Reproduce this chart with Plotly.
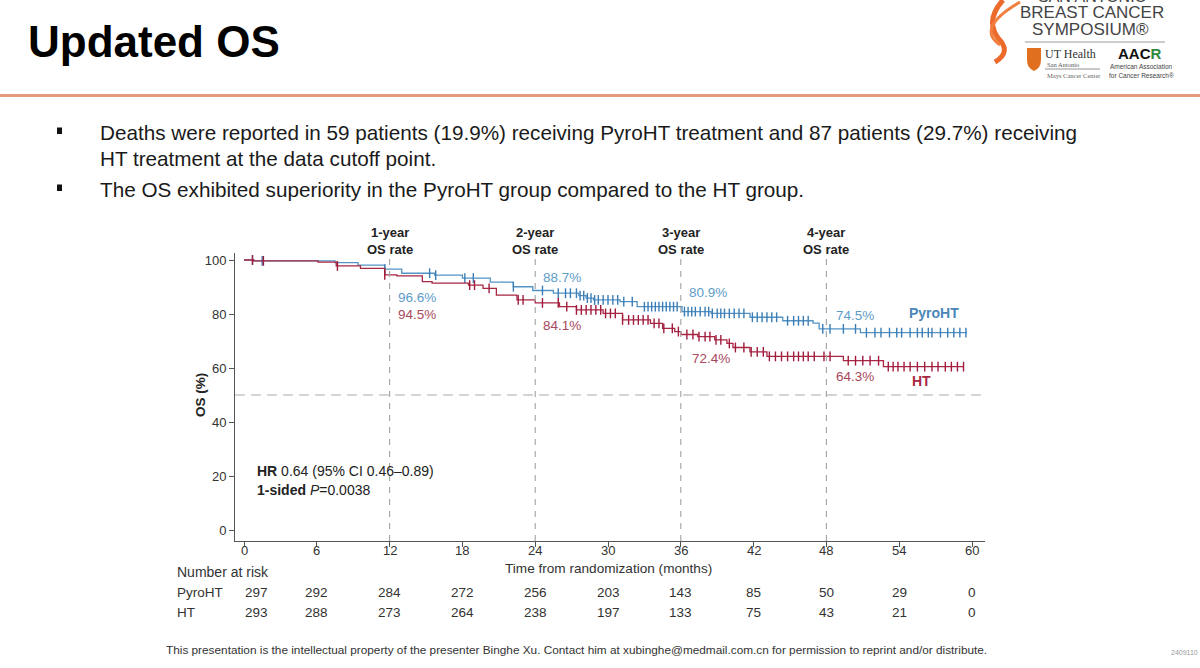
import numpy as np
import plotly.graph_objects as go

W, H = 1200, 668

# ---------------- data ----------------
months_ticks = [0, 6, 12, 18, 24, 30, 36, 42, 48, 54, 60]
os_ticks = [0, 20, 40, 60, 80, 100]

pyro_time = [0, 0.8, 7.5, 9.4, 11.6, 13.0, 15.7, 18.0, 20.3, 22.2, 23.8, 25.5, 27.6, 28.2,
             28.8, 31.0, 32.4, 36.1, 38.5, 41.7, 44.4, 46.9, 47.4, 50.8, 59.6]
pyro_surv = [100, 99.7, 99.0, 98.1, 96.6, 95.1, 94.4, 93.3, 91.8, 90.1, 88.7, 87.7, 86.8, 85.9,
             85.2, 84.6, 82.7, 80.9, 80.2, 78.8, 77.5, 76.6, 74.5, 73.1, 73.1]

ht_time = [0, 0.8, 6.1, 7.6, 9.6, 11.6, 12.6, 14.7, 15.5, 18.5, 19.7, 20.8, 22.5, 24.0, 26.0,
           27.4, 29.6, 31.2, 33.5, 34.5, 35.5, 36.0, 37.4, 38.8, 39.8, 40.3, 41.7, 43.1, 49.4,
           52.7, 59.3]
ht_surv = [100, 99.7, 99.2, 97.8, 96.9, 94.5, 94.1, 92.0, 91.4, 90.7, 89.5, 87.0, 85.2, 84.1, 82.7,
           81.5, 80.2, 77.8, 76.5, 74.7, 73.5, 72.4, 71.6, 70.4, 69.1, 67.6, 66.0, 64.3, 62.7,
           60.5, 60.5]

pyro_censor = [0.7, 1.5, 11.6, 15.3, 15.8, 18.2, 18.9, 22.2, 24.6, 25.9, 26.5, 26.9, 27.4, 27.7,
               28.0, 28.3, 28.6, 28.9, 29.2, 29.6, 30.0, 30.4, 30.8, 31.3, 32.0, 33.0, 33.3, 33.6,
               33.9, 34.2, 34.5, 34.8, 35.1, 35.4, 35.7, 36.3, 36.6, 36.9, 37.2, 37.6, 38.0, 38.3,
               38.6, 39.0, 39.3, 39.6, 40.0, 40.4, 40.8, 41.2, 41.9, 42.3, 42.7, 43.1, 43.5, 43.9,
               44.8, 45.3, 45.7, 46.1, 46.5, 47.7, 48.3, 49.4, 50.4, 51.3, 52.0, 52.5, 53.2, 53.8,
               54.2, 54.9, 55.5, 55.9, 56.4, 56.7, 57.4, 58.0, 58.5, 59.0, 59.5]
ht_censor = [0.7, 1.6, 7.7, 11.6, 18.6, 19.0, 20.2, 22.6, 23.0, 24.6, 25.9, 26.6, 27.4, 27.8,
             28.2, 28.6, 29.0, 29.4, 29.8, 30.2, 30.6, 31.2, 31.7, 32.1, 32.5, 32.9, 33.3, 33.8,
             34.2, 34.6, 35.3, 35.8, 36.5, 37.0, 37.5, 38.0, 38.4, 38.9, 39.3, 40.0, 40.5, 41.2,
             41.8, 42.3, 42.8, 43.3, 43.8, 44.3, 44.8, 45.3, 45.7, 46.1, 46.5, 47.0, 47.8, 48.3,
             49.8, 50.4, 51.0, 51.6, 52.3, 53.1, 53.5, 53.9, 54.4, 54.9, 55.5, 56.1, 56.7, 57.2,
             57.8, 58.3, 58.8, 59.3]

risk_groups = ["PyroHT", "HT"]
risk_pyro = [297, 292, 284, 272, 256, 203, 143, 85, 50, 29, 0]
risk_ht = [293, 288, 273, 264, 238, 197, 133, 75, 43, 21, 0]

landmarks = [12, 24, 36, 48]
landmark_labels = ["1-year", "2-year", "3-year", "4-year"]
pyro_rates = ["96.6%", "88.7%", "80.9%", "74.5%"]
ht_rates = ["94.5%", "84.1%", "72.4%", "64.3%"]

bullets = [
    "Deaths were reported in 59 patients (19.9%) receiving PyroHT treatment and 87 patients (29.7%) receiving",
    "HT treatment at the data cutoff point.",
    "The OS exhibited superiority in the PyroHT group compared to the HT group.",
]

# ---------------- style ----------------
BLUE_LINE = "#5393C3"
BLUE_MARK = "#3B7DB6"
BLUE_TXT = "#5E9CC8"
RED_LINE = "#A82743"
RED_MARK = "#A11B3C"
RED_TXT = "#A8475C"
SANS = "Liberation Sans, Arial, sans-serif"


def px(x):
    return x / W


def py(y):
    return 1 - y / H


def step_at(times, surv, t):
    idx = np.searchsorted(np.array(times), np.array(t), side="right") - 1
    return np.array(surv)[idx]


fig = go.Figure()

for times, surv, cens, lc, mc, name in [
    (pyro_time, pyro_surv, pyro_censor, BLUE_LINE, BLUE_MARK, "PyroHT"),
    (ht_time, ht_surv, ht_censor, RED_LINE, RED_MARK, "HT"),
]:
    fig.add_trace(go.Scatter(x=times, y=surv, mode="lines", line=dict(color=lc, width=1.3, shape="hv"),
                             name=name, showlegend=False, hoverinfo="skip"))
    fig.add_trace(go.Scatter(x=cens, y=step_at(times, surv, cens), mode="markers",
                             marker=dict(symbol="line-ns", size=7, line=dict(color=mc, width=1.4)),
                             showlegend=False, hoverinfo="skip"))

# axis geometry (pixels)
X0, X1 = 235, 985
Y0, Y1 = 253, 541
m_per_px = 60 / (972 - 244)
p_per_px = 100 / (530 - 260)
xr = [0 - (244 - X0) * m_per_px, 60 + (X1 - 972) * m_per_px]
yr = [0 - (Y1 - 530) * p_per_px, 100 + (260 - Y0) * p_per_px]

fig.update_layout(
    width=W, height=H, margin=dict(l=0, r=0, t=0, b=0),
    paper_bgcolor="white", plot_bgcolor="white",
    xaxis=dict(domain=[px(X0), px(X1)], range=xr, tickvals=months_ticks, showgrid=False, zeroline=False,
               showline=True, linecolor="#555", linewidth=1, ticks="outside", ticklen=5, tickcolor="#555",
               showticklabels=False),
    yaxis=dict(domain=[py(Y1), py(Y0)], range=yr, tickvals=os_ticks, showgrid=False, zeroline=False,
               showline=True, linecolor="#555", linewidth=1, ticks="outside", ticklen=5, tickcolor="#555",
               tickfont=dict(family=SANS, size=13, color="#333")),
    font=dict(family=SANS),
)

shapes = []
# landmark dashed lines
for lm in landmarks:
    shapes.append(dict(type="line", xref="x", yref="y", x0=lm, x1=lm, y0=yr[0], y1=100.8,
                       line=dict(color="#A8A8A8", width=1.2, dash="6px,6px")))
# median reference
shapes.append(dict(type="line", xref="x", yref="y", x0=xr[0], x1=xr[1], y0=50, y1=50,
                   line=dict(color="#A8A8A8", width=1.2, dash="10px,6px")))
# header rule
shapes.append(dict(type="line", xref="paper", yref="paper", x0=0, x1=1, y0=py(95.5), y1=py(95.5),
                   line=dict(color="#E59C7C", width=3)))
# bullets
for yb in [131, 188]:
    shapes.append(dict(type="rect", xref="paper", yref="paper", x0=px(57), x1=px(62), y0=py(yb - 3.5),
                       y1=py(yb + 3), fillcolor="#111", line=dict(width=0)))


def path(points):
    s = "M %f,%f" % (px(points[0][0]), py(points[0][1]))
    for i in range(1, len(points), 2):
        s += " Q %f,%f %f,%f" % (px(points[i][0]), py(points[i][1]), px(points[i + 1][0]), py(points[i + 1][1]))
    return s


# logo ribbon
shapes.append(dict(type="path", xref="paper", yref="paper",
                   path=path([(1003, 0), (985, 20), (998, 38), (1012, 52), (995, 62)]),
                   line=dict(color="#EC6A2C", width=5)))
shapes.append(dict(type="path", xref="paper", yref="paper",
                   path=path([(1020, 2), (975, 28), (1000, 45)]),
                   line=dict(color="#F08040", width=3)))
shapes.append(dict(type="line", xref="paper", yref="paper", x0=px(1025), x1=px(1165), y0=py(42), y1=py(42),
                   line=dict(color="#999", width=1)))
shapes.append(dict(type="path", xref="paper", yref="paper",
                   path="M %f,%f L %f,%f L %f,%f Q %f,%f %f,%f Q %f,%f %f,%f Z" % (
                       px(1027), py(48), px(1041), py(48), px(1041), py(60), px(1041), py(68), px(1034), py(71),
                       px(1027), py(68), px(1027), py(60)),
                   fillcolor="#E07020", line=dict(width=0)))
shapes.append(dict(type="line", xref="paper", yref="paper", x0=px(1045), x1=px(1100), y0=py(69), y1=py(69),
                   line=dict(color="#777", width=0.8)))
fig.update_layout(shapes=shapes)

ann = []


def txt(x, y, s, size, color="#222", family=SANS, xanchor="left", yanchor="middle", xref="paper", yref="paper",
        textangle=0):
    ann.append(dict(x=x, y=y, xref=xref, yref=yref, text=s, showarrow=False, xanchor=xanchor, yanchor=yanchor,
                    font=dict(size=size, color=color, family=family), textangle=textangle, borderpad=0))


# title
txt(px(27), py(41), "<b>Updated OS</b>", 44, "#000")
# logo text
txt(px(1092), py(-4), "SAN ANTONIO", 16, "#444", xanchor="center")
txt(px(1092), py(12), "BREAST CANCER", 17, "#444", xanchor="center")
txt(px(1090), py(30), "SYMPOSIUM®", 17, "#444", xanchor="center")
txt(px(1044), py(54), "UT Health", 12, "#333", family="Liberation Serif, serif")
txt(px(1046), py(64.5), "San Antonio", 6.5, "#555", family="Liberation Serif, serif")
txt(px(1046), py(75), "Mays Cancer Center", 6.5, "#666", family="Liberation Serif, serif")
txt(px(1140), py(53), "<b>AAC<span style='color:#2E8B3E'>R</span></b>", 15, "#111", xanchor="center")
txt(px(1141), py(66), "American Association", 6.5, "#444", xanchor="center")
txt(px(1141), py(75), "for Cancer Research®", 6.5, "#444", xanchor="center")

# bullets
txt(px(99), py(132), bullets[0], 20.7, "#1a1a1a")
txt(px(99), py(158), bullets[1], 20.7, "#1a1a1a")
txt(px(99), py(189), bullets[2], 20.7, "#1a1a1a")

# landmark headers
for lm, lab in zip(landmarks, landmark_labels):
    txt(lm, py(241), "<b>%s<br>OS rate</b>" % lab, 13, "#222", xanchor="center", xref="x")

# rate labels (months, %)
pyro_pos = [(12.6, 86.0), (24.6, 93.7), (36.6, 87.8), (48.7, 79.6)]
ht_pos = [(12.6, 80.0), (24.6, 75.9), (36.8, 63.7), (48.7, 56.7)]
for (x, y), s in zip(pyro_pos, pyro_rates):
    txt(x, y, s, 13.5, BLUE_TXT, xref="x", yref="y")
for (x, y), s in zip(ht_pos, ht_rates):
    txt(x, y, s, 13.5, RED_TXT, xref="x", yref="y")
txt(54.7, 80.4, "<b>PyroHT</b>", 14, "#4A87B8", xref="x", yref="y")
txt(55.0, 55.2, "<b>HT</b>", 14, RED_LINE, xref="x", yref="y")

# HR box
txt(px(256), py(471), "<b>HR</b> 0.64 (95% CI 0.46–0.89)", 14, "#222")
txt(px(256), py(490), "<b>1-sided</b> <i>P</i>=0.0038", 14, "#222")

# axis titles
txt(px(200), py(395), "<b>OS (%)</b>", 13.5, "#222", xanchor="center", textangle=-90)
txt(px(608), py(568), "Time from randomization (months)", 13.6, "#333", xanchor="center")

# x tick labels
for m in months_ticks:
    txt(m, py(550), str(m), 13, "#333", xanchor="center", xref="x")

# number at risk
txt(px(176), py(572), "Number at risk", 14, "#333")
for row, (g, vals) in enumerate(zip(risk_groups, [risk_pyro, risk_ht])):
    yy = py(592 + row * 20)
    txt(px(176), yy, g, 13.5, "#333")
    for i, (m, v) in enumerate(zip(months_ticks, vals)):
        xm = m + 1.0 if i == 0 else m
        txt(xm, yy, str(v), 13.5, "#333", xanchor="center", xref="x")

# footer
txt(px(576), py(650), "This presentation is the intellectual property of the presenter Binghe Xu. "
    "Contact him at xubinghe@medmail.com.cn for permission to reprint and/or distribute.",
    11.8, "#333", xanchor="center")
txt(px(1184), py(652), "2409110", 7, "#999", xanchor="center")

fig.update_layout(annotations=ann)
fig.write_html("out.html")
